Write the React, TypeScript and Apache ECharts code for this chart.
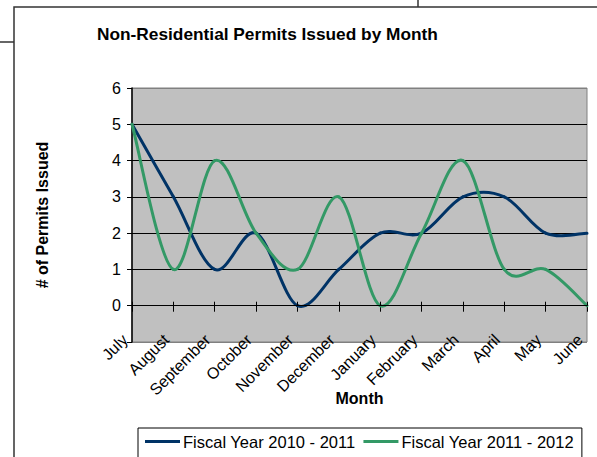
import React, { useEffect, useRef } from "react";
import * as echarts from "echarts";

const months = ["July", "August", "September", "October", "November", "December", "January", "February", "March", "April", "May", "June"];
const fy2010_2011 = [5, 3, 1, 2, 0, 1, 2, 2, 3, 3, 2, 2];
const fy2011_2012 = [5, 1, 4, 2, 1, 3, 0, 2, 4, 1, 1, 0];
const seriesNames = ["Fiscal Year 2010 - 2011", "Fiscal Year 2011 - 2012"];
const seriesColors = ["#003366", "#339966"];
const yMin = -1;
const yMax = 6;

const FONT = "'Liberation Sans', Arial, sans-serif";

function smoothSeries(name: string, values: number[], color: string, z: number) {
  return {
    name,
    type: "custom",
    coordinateSystem: "cartesian2d",
    xAxisIndex: 0,
    yAxisIndex: 0,
    z,
    itemStyle: { color },
    encode: { x: 0, y: 1 },
    data: values.map((v, i) => [i, v]),
    renderItem: (params: any, api: any) => {
      const i = params.dataIndex;
      const n = values.length;
      if (i >= n - 1) return null;
      const P = (k: number) => {
        const kk = Math.max(0, Math.min(n - 1, k));
        return api.coord([kk, values[kk]]);
      };
      const p0 = P(i - 1);
      const p1 = P(i);
      const p2 = P(i + 1);
      const p3 = P(i + 2);
      const t = 1 / 6;
      return {
        type: "bezierCurve",
        shape: {
          x1: p1[0],
          y1: p1[1],
          cpx1: p1[0] + (p2[0] - p0[0]) * t,
          cpy1: p1[1] + (p2[1] - p0[1]) * t,
          cpx2: p2[0] - (p3[0] - p1[0]) * t,
          cpy2: p2[1] - (p3[1] - p1[1]) * t,
          x2: p2[0],
          y2: p2[1],
        },
        style: { stroke: color, lineWidth: 3, fill: null, lineCap: "round" },
      };
    },
  };
}

export default function App() {
  const ref = useRef<HTMLDivElement>(null);
  useEffect(() => {
    if (!ref.current) return;
    const chart = echarts.init(ref.current, null, { renderer: "svg" });
    const splitColors = ["#808080", "#000000", "#000000", "#000000", "#000000", "#000000", "#000000", "#808080"];
    const gridBox = { left: 132, top: 88, right: 10, bottom: 115 };
    chart.setOption({
      animation: false,
      backgroundColor: "#ffffff",
      textStyle: { fontFamily: FONT, color: "#000" },
      title: {
        text: "Non-Residential Permits Issued by Month",
        left: 97,
        top: 25,
        padding: 0,
        textStyle: { fontFamily: FONT, fontSize: 17.3, fontWeight: "bold", color: "#000" },
      },
      graphic: [
        { type: "rect", shape: { x: 14, y: 7, width: 600, height: 470 }, style: { fill: "none", stroke: "#333", lineWidth: 1.5 }, silent: true, z: -10 },
        { type: "line", shape: { x1: 0, y1: 42, x2: 14, y2: 42 }, style: { stroke: "#333", lineWidth: 1.5 }, silent: true },
        { type: "line", shape: { x1: 418, y1: 0, x2: 418, y2: 7 }, style: { stroke: "#333", lineWidth: 1.5 }, silent: true },
      ],
      legend: {
        data: seriesNames,
        left: 138,
        top: 428,
        orient: "horizontal",
        padding: [5, 8, 8, 7],
        itemGap: 8,
        itemWidth: 35,
        itemHeight: 3,
        icon: "rect",
        borderColor: "#000",
        borderWidth: 1,
        borderRadius: 0,
        textStyle: { fontFamily: FONT, fontSize: 16.5, color: "#000", padding: [0, 0, 0, -2] },
      },
      grid: [
        { ...gridBox, show: true, backgroundColor: "#C0C0C0", borderColor: "#808080", borderWidth: 1 },
        { ...gridBox, show: false },
      ],
      xAxis: [
        {
          type: "category",
          gridIndex: 0,
          data: months,
          boundaryGap: false,
          position: "bottom",
          axisLine: { show: true, onZero: true, lineStyle: { color: "#000", width: 1 } },
          axisTick: { show: true, inside: true, length: 4, interval: 0, lineStyle: { color: "#000" } },
          axisLabel: {
            rotate: 45,
            fontFamily: FONT,
            fontSize: 16,
            color: "#000",
            margin: -12,
            padding: [0, 10, 0, 0],
            interval: 0,
            overflow: "none",
            hideOverlap: false,
          },
          z: 5,
        },
        {
          type: "category",
          gridIndex: 1,
          data: months,
          boundaryGap: false,
          position: "bottom",
          axisLine: { show: false, onZero: true },
          axisTick: { show: true, inside: false, length: 6, interval: 0, lineStyle: { color: "#000" } },
          axisLabel: { show: false },
        },
        {
          type: "category",
          gridIndex: 0,
          data: months,
          boundaryGap: false,
          position: "bottom",
          axisLine: { show: false, onZero: false },
          axisTick: { show: false },
          axisLabel: { show: false },
          name: "Month",
          nameLocation: "middle",
          nameGap: 48,
          nameTextStyle: { fontFamily: FONT, fontSize: 16, fontWeight: "bold", color: "#000" },
        },
      ],
      yAxis: [
        {
          type: "value",
          gridIndex: 0,
          min: yMin,
          max: yMax,
          interval: 1,
          axisLine: { show: true, lineStyle: { color: "#000", width: 1.5 } },
          axisTick: { show: true, length: 5, lineStyle: { color: "#000" } },
          axisLabel: {
            fontFamily: FONT,
            fontSize: 16,
            color: "#000",
            margin: 11,
            formatter: (v: number) => (v < 0 ? "" : String(v)),
          },
          splitLine: { show: true, lineStyle: { color: splitColors, width: 1 } },
          name: "# of Permits Issued",
          nameLocation: "middle",
          nameGap: 82,
          nameTextStyle: { fontFamily: FONT, fontSize: 16, fontWeight: "bold", color: "#000" },
        },
        {
          type: "value",
          gridIndex: 1,
          min: yMin,
          max: yMax,
          interval: 1,
          axisLine: { show: false },
          axisTick: { show: false },
          axisLabel: { show: false },
          splitLine: { show: false },
        },
      ],
      series: [
        smoothSeries(seriesNames[0], fy2010_2011, seriesColors[0], 3),
        smoothSeries(seriesNames[1], fy2011_2012, seriesColors[1], 4),
      ],
    });
    return () => chart.dispose();
  }, []);
  return (
    <div
      ref={ref}
      style={{ position: "absolute", left: 0, top: 0, width: 597, height: 457 }}
    />
  );
}
